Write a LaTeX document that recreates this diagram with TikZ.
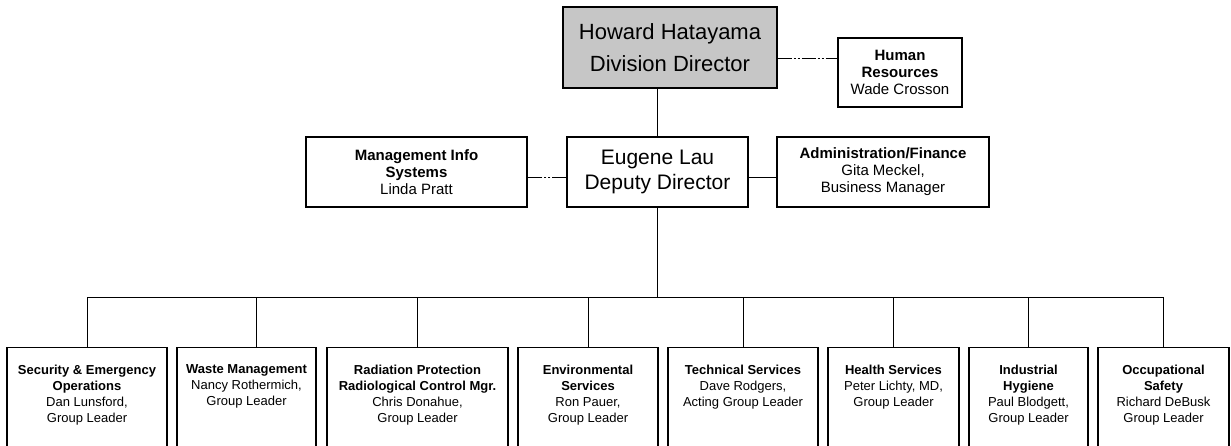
\documentclass[tikz,border=0pt]{standalone}
\usepackage{fontspec}
\setmainfont{Liberation Sans}
\usetikzlibrary{%
  calc%
}
\newcommand{\unittext}[2]{\parbox[t][80pt][t]{\dimexpr#1pt-6pt\relax}{\centering#2}}

\begin{document}
\begin{tikzpicture}[x=1pt,y=-1pt,
  orgbox/.style={draw,line width=1.2pt,align=center,inner sep=2pt},
  headbox/.style={orgbox,fill=gray!45,font=\fontsize{22}{32}\selectfont},
  staffbox/.style={orgbox,font=\fontsize{15}{17}\selectfont},
  unitbox/.style={draw,line width=1.2pt,anchor=north,inner xsep=3pt,inner ysep=17pt,
    font=\fontsize{13}{16}\selectfont},
  link/.style={line width=1pt},
  dotlink/.style={link,dash pattern=on 14pt off 2pt on 2pt off 2pt on 2pt off 2pt}]
\path[use as bounding box,fill=white] (0,0) rectangle (1231,445);

\node[headbox,minimum width=214pt,minimum height=81pt] (director) at (670,47.5)
  {Howard Hatayama\\Division Director};
\node[staffbox,minimum width=124pt,minimum height=69pt] (hr) at (900,72.5)
  {\textbf{Human}\\\textbf{Resources}\\Wade Crosson};
\node[orgbox,font=\fontsize{21}{25}\selectfont,minimum width=181pt,minimum height=70pt]
  (deputy) at (657.5,172) {Eugene Lau\\Deputy Director};
\node[staffbox,minimum width=221pt,minimum height=70pt] (mis) at (416.5,172)
  {\textbf{Management Info}\\\textbf{Systems}\\Linda Pratt};
\node[staffbox,minimum width=212pt,minimum height=70pt] (admin) at (883,172)
  {\textbf{Administration/Finance}\\Gita Meckel,\\Business Manager};

\node[unitbox] (security) at (87,347) {\unittext{160}{\textbf{Security \& Emergency}\\
  \textbf{Operations}\\Dan Lunsford,\\Group Leader}};
\node[unitbox] (waste) at (246.5,347) {\unittext{139}{\textbf{Waste Management}\\
  Nancy Rothermich,\\Group Leader}};
\node[unitbox] (rad) at (417.5,347) {\unittext{181}{\textbf{Radiation Protection}\\
  \textbf{Radiological Control Mgr.}\\Chris Donahue,\\Group Leader}};
\node[unitbox] (env) at (588,347) {\unittext{140}{\textbf{Environmental}\\
  \textbf{Services}\\Ron Pauer,\\Group Leader}};
\node[unitbox] (tech) at (743,347) {\unittext{150}{\textbf{Technical Services}\\
  Dave Rodgers,\\Acting Group Leader}};
\node[unitbox] (health) at (893.5,347) {\unittext{131}{\textbf{Health Services}\\
  Peter Lichty, MD,\\Group Leader}};
\node[unitbox] (hygiene) at (1028.5,347) {\unittext{119}{\textbf{Industrial}\\
  \textbf{Hygiene}\\Paul Blodgett,\\Group Leader}};
\node[unitbox] (safety) at (1163.5,347) {\unittext{131}{\textbf{Occupational}\\
  \textbf{Safety}\\Richard DeBusk\\Group Leader}};

\draw[link] (deputy.north) -- (deputy.north |- director.south);
\draw[dotlink] ([yshift=-10.5pt]director.east) -- ([yshift=-10.5pt]director.east -| hr.west);
\draw[dotlink] ([yshift=-5pt]deputy.west) -- ([yshift=-5pt]deputy.west -| mis.east);
\draw[link] ([yshift=-5pt]deputy.east) -- ([yshift=-5pt]deputy.east -| admin.west);

\coordinate (bus) at (0,297);
\draw[link] (deputy.south) -- (deputy.south |- bus);
\draw[link] (security.north |- bus) -- (safety.north |- bus);
\foreach \u in {security,rad,env,tech,health,hygiene,safety}
  \draw[link] (\u.north) -- (\u.north |- bus);
\draw[link] ([xshift=10pt]waste.north) -- ([xshift=10pt]waste.north |- bus);
\end{tikzpicture}
\end{document}
